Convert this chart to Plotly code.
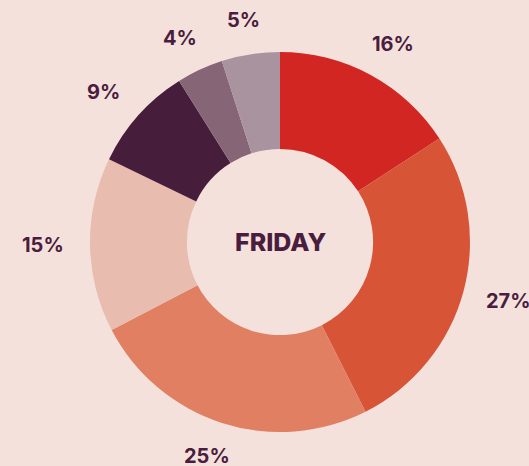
import math
import plotly.graph_objects as go

labels = ["A", "B", "C", "D", "E", "F", "G"]
values = [16, 27, 25, 15, 9, 4, 5]
colors = ["#D22623", "#D75436", "#E07F62", "#E8BCAE", "#461D3B", "#866676", "#A8939E"]
center_label = "FRIDAY"

W, H = 529, 466
BG = "#F5E1DC"
TXT = "#4A1D3E"
cx, cy, R = 280, 242, 190
label_r = 216
half_w, half_h = 21, 9

fig = go.Figure(go.Pie(
    labels=labels, values=values, sort=False, direction="clockwise", rotation=0,
    hole=0.49, marker=dict(colors=colors, line=dict(width=0)),
    textinfo="none", hoverinfo="label+percent", showlegend=False,
    domain=dict(x=[(cx - R) / W, (cx + R) / W], y=[(H - cy - R) / H, (H - cy + R) / H]),
))

total = sum(values)
cum = 0
annots = []
for v in values:
    mid = (cum + v / 2) / total * 2 * math.pi
    cum += v
    sx, sy = math.sin(mid), -math.cos(mid)
    px = cx + label_r * sx + half_w * sx
    py = cy + label_r * sy + half_h * sy
    annots.append(dict(x=px / W, y=1 - py / H, xref="paper", yref="paper",
                       xanchor="center", yanchor="middle",
                       text=f"{round(v / total * 100)}%", showarrow=False,
                       font=dict(family="Inter, Lato, sans-serif", size=20, color=TXT, weight=700)))
annots.append(dict(x=cx / W, y=1 - cy / H, xref="paper", yref="paper", text=center_label,
                   xanchor="center", yanchor="middle", showarrow=False,
                   font=dict(family="Inter, Lato, sans-serif", size=25, color=TXT, weight=800)))

fig.update_layout(width=W, height=H, margin=dict(l=0, r=0, t=0, b=0),
                  paper_bgcolor=BG, plot_bgcolor=BG, annotations=annots)
fig.write_html("out.html", config={"responsive": False, "displayModeBar": False},
               post_script="document.body.style.margin='0';document.body.style.background='%s';" % BG)
